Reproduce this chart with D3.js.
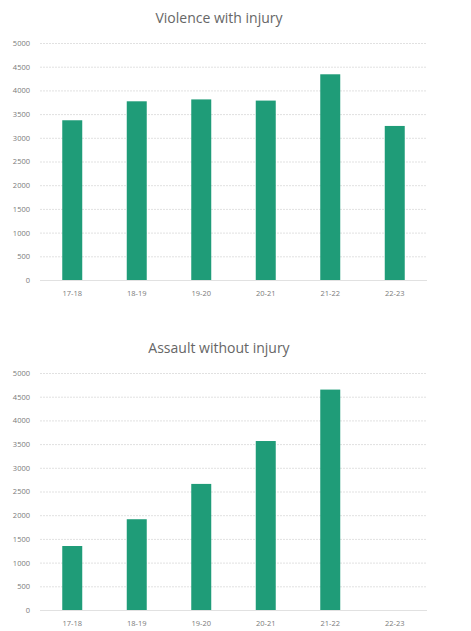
<!DOCTYPE html>
<html lang="en">
<head>
<meta charset="utf-8">
<title>Violence charts</title>
<script src="https://d3js.org/d3.v7.min.js"></script>
<style>
body { margin: 0; background: #fff; }
.title { font-family: "Open Sans", Arial, sans-serif; font-size: 14px; fill: #666; }
.tick text { font-family: "Open Sans", Arial, sans-serif; font-size: 7.5px; fill: #7a7a7a; }
</style>
</head>
<body>
<div id="chart"></div>
<script>
var years = ["17-18", "18-19", "19-20", "20-21", "21-22", "22-23"];
var violenceWithInjury = [3370, 3770, 3810, 3785, 4340, 3250];
var assaultWithoutInjury = [1350, 1915, 2660, 3565, 4650, null];
var yTicks = [0, 500, 1000, 1500, 2000, 2500, 3000, 3500, 4000, 4500, 5000];

var width = 471, height = 631;
var svg = d3.select("#chart").append("svg")
  .attr("width", width).attr("height", height);

var x = d3.scaleBand().domain(years).range([40, 427]).paddingInner(0.69).paddingOuter(0.345);

function drawChart(title, values, top) {
  var y = d3.scaleLinear().domain([0, 5000]).range([top + 237, top]);
  var g = svg.append("g");

  // gridlines
  g.selectAll("line.grid")
    .data(yTicks)
    .enter().append("line")
    .attr("class", "grid")
    .attr("x1", 40).attr("x2", 427)
    .attr("y1", function(d) { return y(d) + 0.5; })
    .attr("y2", function(d) { return y(d) + 0.5; })
    .attr("stroke", "#e1e1e1")
    .attr("stroke-width", 1)
    .attr("stroke-dasharray", function(d) { return d === 0 ? null : "2,1"; });

  var yAxis = g.append("g")
    .attr("transform", "translate(40,0)")
    .call(d3.axisLeft(y).tickValues(yTicks).tickSize(0).tickPadding(10).tickFormat(d3.format("d")));
  yAxis.select(".domain").remove();

  var data = years.map(function(yr, i) { return { year: yr, value: values[i] }; })
    .filter(function(d) { return d.value != null; });

  g.selectAll("rect.bar")
    .data(data)
    .enter().append("rect")
    .attr("class", "bar")
    .attr("x", function(d) { return x(d.year); })
    .attr("width", x.bandwidth())
    .attr("y", function(d) { return y(d.value); })
    .attr("height", function(d) { return y(0) - y(d.value); })
    .attr("fill", "#1f9c78");

  var xAxis = g.append("g")
    .attr("transform", "translate(0," + (top + 237) + ")")
    .call(d3.axisBottom(x).tickSize(0).tickPadding(11));
  xAxis.select(".domain").remove();

  g.append("text")
    .attr("class", "title")
    .attr("x", 219)
    .attr("y", top - 20)
    .attr("text-anchor", "middle")
    .text(title);
}

drawChart("Violence with injury", violenceWithInjury, 43);
drawChart("Assault without injury", assaultWithoutInjury, 373);
</script>
</body>
</html>
